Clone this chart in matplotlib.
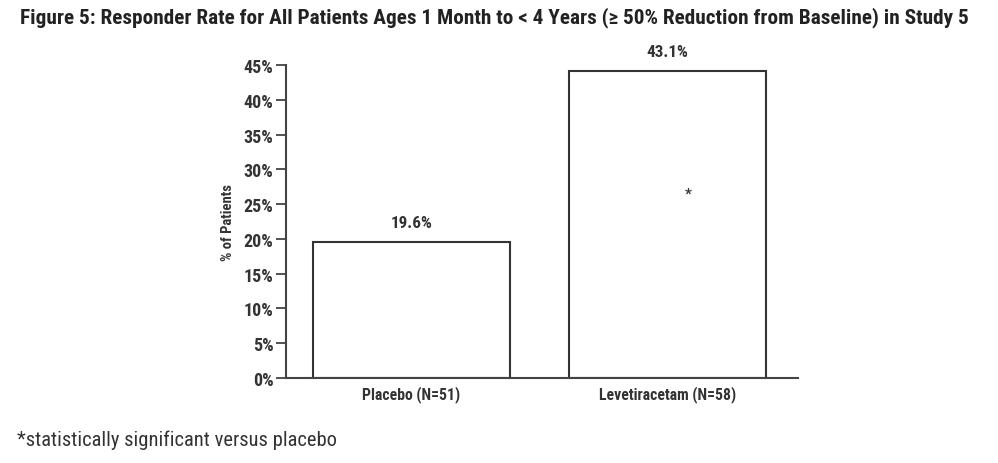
import matplotlib
matplotlib.use("Agg")
import matplotlib.pyplot as plt
from matplotlib import font_manager

categories = ["Placebo (N=51)", "Levetiracetam (N=58)"]
bar_heights = [19.5, 44.1]
value_labels = ["19.6%", "43.1%"]
yticks = [0, 5, 10, 15, 20, 25, 30, 35, 40, 45]
ytick_labels = [f"{t}%" for t in yticks]

names = {f.name for f in font_manager.fontManager.ttflist}
cond = None
for cand in ["Roboto Condensed", "Liberation Sans Narrow", "Open Sans Condensed"]:
    if cand in names:
        cond = cand
        break
if cond is None:
    cond = "DejaVu Sans"
plt.rcParams['font.family'] = [cond, 'DejaVu Sans']
plt.rcParams['font.stretch'] = 'condensed'

fig = plt.figure(figsize=(9.98, 4.64), dpi=100)
ax = fig.add_axes([0.2866, 0.1832, 0.513, 0.6746])

x = list(range(len(categories)))
ax.bar(x, bar_heights, width=0.768, facecolor="white", edgecolor="#333333", linewidth=1.5)
ax.set_xlim(-0.49, 1.51)
ax.set_ylim(0, 45)
ax.set_yticks(yticks)
ax.set_yticklabels(ytick_labels, fontsize=13, fontweight="bold", color="#333333")
ax.set_xticks(x)
ax.set_xticklabels(categories, fontsize=11.3, fontweight="bold", color="#333333")
ax.tick_params(axis="x", length=0, pad=5)
ax.tick_params(axis="y", length=7, width=1.3, color="#444444", direction="out", pad=2)
for s in ["top", "right"]:
    ax.spines[s].set_visible(False)
for s in ["left", "bottom"]:
    ax.spines[s].set_color("#444444")
    ax.spines[s].set_linewidth(1.5)
ax.set_ylabel("% of Patients", fontsize=10.5, fontweight="bold", color="#333333", labelpad=6)

for xi, h, lab in zip(x, bar_heights, value_labels):
    ax.text(xi, h + 1.8, lab, ha="center", va="bottom", fontsize=12.3, fontweight="bold",
            color="#333333", clip_on=False)
ax.text(1.08, 26.5, "*", ha="center", va="center", fontsize=11, fontweight="bold", color="#333333")

title = fig.text(0.020, 0.962, "Figure 5: Responder Rate for All Patients Ages 1 Month to < 4 Years (\u2265 50% Reduction from Baseline) in Study 5",
                 ha="left", va="center", fontsize=13.5, fontweight="bold", color="#222222")
foot = fig.text(0.017, 0.052, "*statistically significant versus placebo", ha="left", va="center",
                fontsize=12.5, color="#333333")


def fit(t, target_px):
    fig.canvas.draw()
    r = fig.canvas.get_renderer()
    w = t.get_window_extent(r).width
    t.set_fontsize(t.get_fontsize() * target_px / w)


fit(title, 950)
fit(foot, 321)

fig.savefig("out.png", dpi=100)
